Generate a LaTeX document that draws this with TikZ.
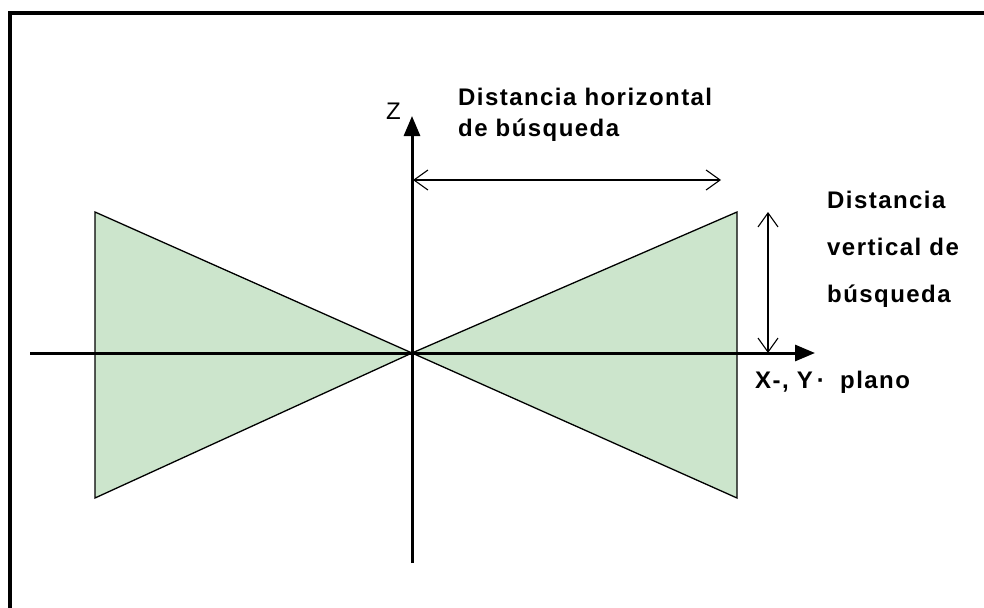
\documentclass[tikz,border=0pt]{standalone}
\usepackage{fontspec}
\setmainfont{Liberation Sans}[LetterSpace=6]
\usetikzlibrary{arrows.meta}
\definecolor{conefill}{RGB}{204,229,204}
\tikzset{
  axis/.style={line width=3pt,-{Triangle[length=20pt,width=16pt]}},
  cone/.style={fill=conefill,draw=black,line width=1.3pt,line join=miter},
  dimarrow/.style={line width=1.3pt,{Straight Barb[length=14pt,width=20pt,line width=1.1pt]}-{Straight Barb[length=14pt,width=20pt,line width=1.1pt]}},
  lbl/.style={font=\fontsize{24}{28}\selectfont\bfseries,inner sep=0pt,anchor=base west},
  axlbl/.style={font=\fontsize{24}{28}\selectfont,inner sep=0pt,anchor=base west},
  frame/.style={line width=4pt}
}
\begin{document}
\begin{tikzpicture}[x=1pt,y=-1pt]
\useasboundingbox (0,0) rectangle (984,607);
% frame
\draw[frame] (10,640) -- (10,13.5) -- (1000,13.5);
% cone
\coordinate (O) at (412,353);
\coordinate (LT) at (95,212);
\coordinate (LB) at (95,498);
\coordinate (RT) at (737,212);
\coordinate (RB) at (737,498);
\draw[cone] (O) -- (LT) -- (LB) -- cycle;
\draw[cone] (O) -- (RT) -- (RB) -- cycle;
% axes
\coordinate (zb) at (412,563);
\coordinate (zt) at (412,116);
\coordinate (xl) at (30,353);
\coordinate (xr) at (815,353);
\draw[axis] (xl) -- (xr);
\draw[axis] (zb) -- (zt);
% dimension arrows
\coordinate (h1) at (413,180);
\coordinate (h2) at (721,180);
\draw[dimarrow] (h1) -- (h2);
\coordinate (v1) at (768,212);
\coordinate (v2) at (768,353);
\draw[dimarrow] (v1) -- (v2);
% labels
\node[axlbl] (zl) at (386,120) {Z};
\node[lbl] (hl1) at (458,106) {Distancia horizontal};
\node[lbl] (hl2) at (458,136) {de búsqueda};
\node[lbl] (vl1) at (827,208) {Distancia};
\node[lbl] (vl2) at (827,255) {vertical de};
\node[lbl] (vl3) at (827,302) {búsqueda};
\node[lbl] (xy) at (755,388) {X-, Y\,·};
\node[lbl] (pl) at (840,388) {plano};
\end{tikzpicture}
\end{document}
